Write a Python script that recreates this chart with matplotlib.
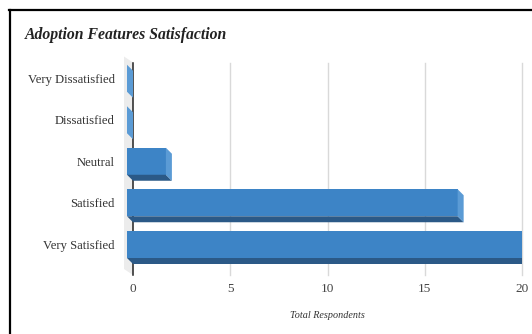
import matplotlib
matplotlib.use("Agg")
import matplotlib.pyplot as plt
from matplotlib.patches import Polygon, Rectangle
from matplotlib.lines import Line2D
import matplotlib.transforms as mtransforms

categories = ["Very Dissatisfied", "Dissatisfied", "Neutral", "Satisfied", "Very Satisfied"]
values = [0, 0, 2, 17, 20]
x_ticks = [0, 5, 10, 15, 20]
title = "Adoption Features Satisfaction"
x_label = "Total Respondents"

W, H, DPI = 532, 334, 100
plt.rcParams['font.family'] = ['Liberation Serif', 'DejaVu Serif']
fig = plt.figure(figsize=(W / DPI, H / DPI), dpi=DPI)

L, R, T, B = 133, 522, 63.5, 271
XMAX = x_ticks[-1]
ax = fig.add_axes([L / W, 1 - B / H, (R - L) / W, (B - T) / H])
ax.set_xlim(0, XMAX)
n = len(categories)
ax.set_ylim(n - 0.5, -0.5)
for s in ax.spines.values():
    s.set_visible(False)
ax.set_facecolor('none')

# pixel -> data conversions
px_x = XMAX / (R - L)
px_y = n / (B - T)
DX, DY = 6, 6  # depth offset in pixels

g_top = -0.5 - 1 * px_y
g_bot = n - 0.5 + 4 * px_y
# gridlines
for t in x_ticks[1:]:
    ax.plot([t, t], [g_top, g_bot], color='#d9d9d9', lw=1, zorder=1, clip_on=False)

# side wall
wall = Polygon([(0, g_top), (0, g_bot),
                (-9 * px_x, g_bot - 6 * px_y), (-9 * px_x, g_top - 6 * px_y)],
               closed=True, facecolor='#ececec', edgecolor='none', zorder=0, clip_on=False)
ax.add_patch(wall)
ax.plot([0, 0], [g_top, g_bot], color='#222222', lw=1.1, zorder=2, clip_on=False)

clip_rect = Rectangle((-0.5, -0.5), 1.5, 2.0, transform=ax.transAxes, visible=False)
ax.add_patch(clip_rect)

h = 27 / 41.5
front_c = '#3d84c6'
bottom_c = '#2b5987'
side_c = '#5b9bd5'
for i, v in enumerate(values):
    y0, y1 = i - h / 2, i + h / 2  # back face (y1 is lower on screen)
    fx0 = 0 - DX * px_x
    full = v >= XMAX
    fx1 = v if full else v - DX * px_x
    fy0, fy1 = y0 - DY * px_y, y1 - DY * px_y
    polys = []
    if v > 0:
        polys.append(([(fx0, fy0), (fx1, fy0), (fx1, fy1), (fx0, fy1)], front_c))
        polys.append(([(fx0, fy1), (fx1, fy1), (v, y1), (0, y1)], bottom_c))
    if not full:
        polys.append(([(fx1, fy0), (v, y0), (v, y1), (fx1, fy1)], side_c))
    for pts, c in polys:
        p = Polygon(pts, closed=True, facecolor=c, edgecolor='none', zorder=3, clip_on=True)
        ax.add_patch(p)
        p.set_clip_path(clip_rect)

ax.set_xticks(x_ticks)
ax.set_xticklabels([str(t) for t in x_ticks], fontsize=9.5, color='#444444')
ax.tick_params(axis='x', length=0, pad=9)
ax.set_yticks(range(n))
ax.set_yticklabels(categories, fontsize=9.1, color='#333333')
ax.tick_params(axis='y', length=0, pad=13)
off = mtransforms.ScaledTranslation(0, 6 / DPI, fig.dpi_scale_trans)
for lab in ax.get_yticklabels():
    lab.set_transform(lab.get_transform() + off)

fig.text((L + R) / 2 / W, 1 - 316 / H, x_label, ha='center', va='center',
         fontsize=7.3, style='italic', color='#333333')
fig.text(25 / W, 1 - 35 / H, title, ha='left', va='center', fontsize=11.3,
         style='italic', weight='bold', color='#222222')

# frame lines (top and left)
fig.add_artist(Line2D([9 / W, 1], [1 - 10 / H, 1 - 10 / H], color='black', lw=1.6,
                      transform=fig.transFigure))
fig.add_artist(Line2D([10 / W, 10 / W], [1 - 10 / H, 0], color='black', lw=1.6,
                      transform=fig.transFigure))

fig.savefig('out.png', dpi=DPI)
